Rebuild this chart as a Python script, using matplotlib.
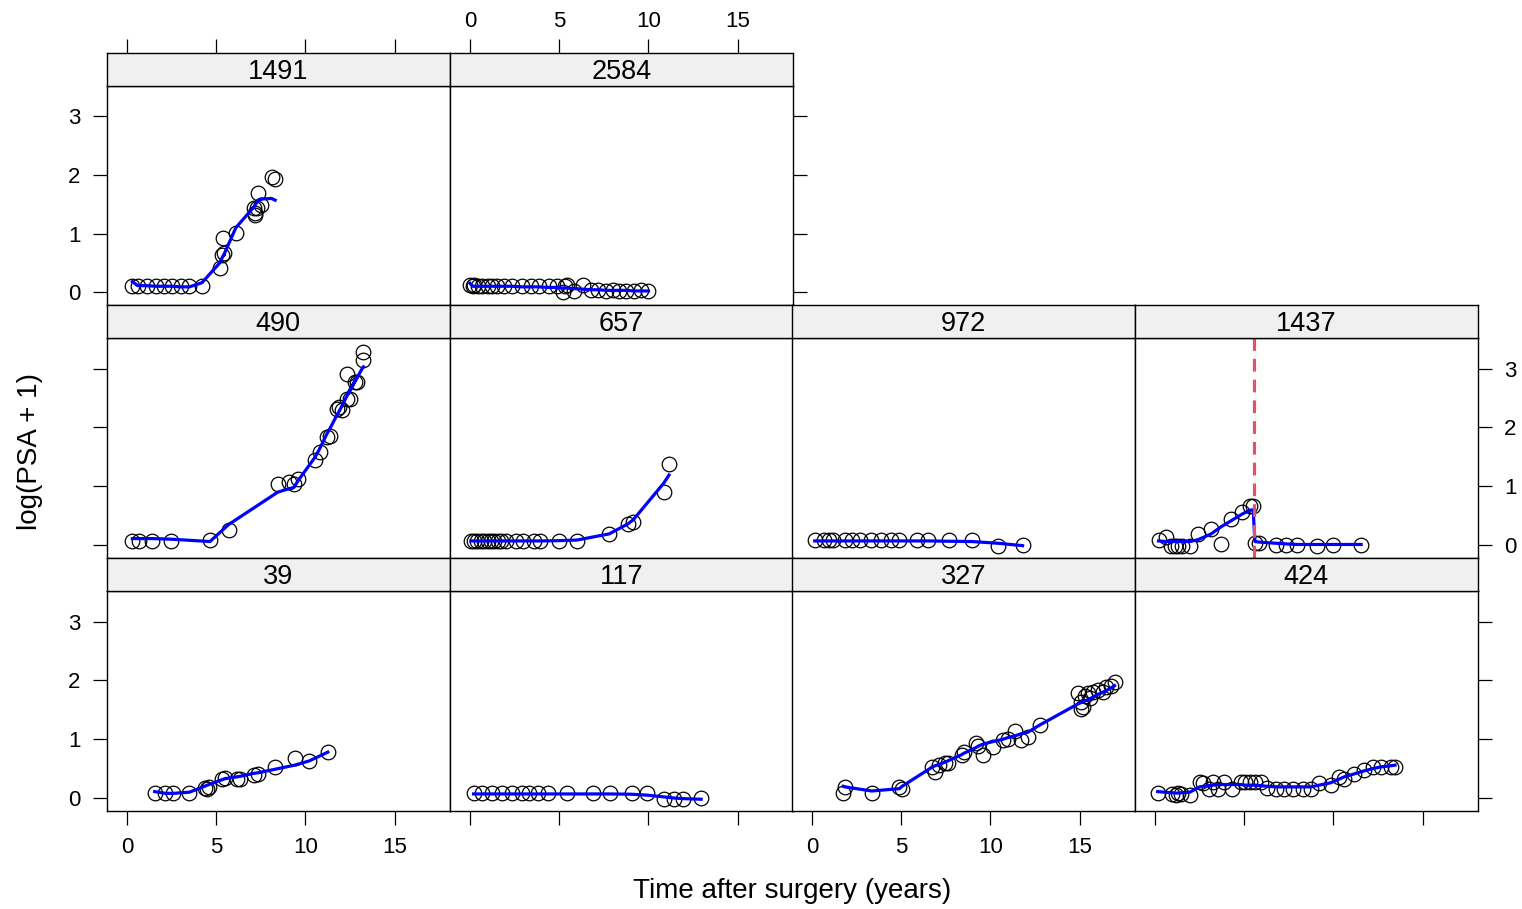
import matplotlib
matplotlib.use("Agg")
import matplotlib.pyplot as plt

plt.rcParams['font.family'] = ['Liberation Sans', 'DejaVu Sans']

# subject ids in panel order (row by row, top row has only two panels)
panel_ids = ["1491", "2584", "490", "657", "972", "1437", "39", "117", "327", "424"]

# ---- data: time (years), log(PSA+1), fitted value ----
t_1491 = [0.3, 0.6, 1.1, 1.6, 2.1, 2.5, 3.0, 3.5, 4.2, 5.2, 5.35, 5.45, 5.4, 6.1, 7.1, 7.15, 7.2, 7.3, 7.35, 7.5, 8.1, 8.3]
y_1491 = [0.1, 0.1, 0.1, 0.1, 0.1, 0.1, 0.1, 0.1, 0.1, 0.41, 0.64, 0.67, 0.93, 1.01, 1.44, 1.35, 1.32, 1.44, 1.70, 1.49, 1.97, 1.93]
f_1491 = [0.18, 0.11, 0.11, 0.1, 0.1, 0.1, 0.09, 0.09, 0.16, 0.5, 0.6, 0.64, 0.62, 1.1, 1.45, 1.47, 1.5, 1.54, 1.56, 1.59, 1.6, 1.57]

t_2584 = [0.0, 0.15, 0.25, 0.45, 0.7, 1.0, 1.25, 1.5, 1.9, 2.35, 2.9, 3.4, 3.85, 4.4, 4.9, 5.2, 5.35, 5.45, 5.85, 6.35, 6.8, 7.2, 7.6, 8.0, 8.35, 8.75, 9.2, 9.6, 10.0]
y_2584 = [0.12, 0.1, 0.12, 0.1, 0.1, 0.11, 0.1, 0.1, 0.1, 0.1, 0.1, 0.1, 0.1, 0.1, 0.1, 0.0, 0.1, 0.12, 0.02, 0.13, 0.03, 0.03, 0.02, 0.03, 0.02, 0.02, 0.02, 0.03, 0.02]
f_2584 = [0.15, 0.1, 0.1, 0.1, 0.1, 0.1, 0.1, 0.1, 0.1, 0.1, 0.09, 0.09, 0.09, 0.08, 0.08, 0.07, 0.07, 0.07, 0.06, 0.05, 0.04, 0.04, 0.03, 0.03, 0.03, 0.03, 0.02, 0.02, 0.02]

t_490 = [0.3, 0.7, 1.4, 2.45, 4.65, 5.7, 8.45, 9.1, 9.35, 9.6, 10.55, 10.8, 11.2, 11.35, 11.75, 11.9, 12.05, 12.3, 12.5, 12.8, 12.9, 12.35, 13.2, 13.25]
y_490 = [0.07, 0.07, 0.07, 0.07, 0.09, 0.26, 1.03, 1.08, 1.04, 1.13, 1.44, 1.58, 1.84, 1.86, 2.31, 2.35, 2.29, 2.49, 2.49, 2.77, 2.77, 2.91, 3.14, 3.28]
f_490 = [0.11, 0.11, 0.11, 0.1, 0.06, 0.35, 0.9, 0.96, 0.98, 1.1, 1.5, 1.64, 1.89, 1.97, 2.2, 2.28, 2.37, 2.52, 2.63, 2.8, 2.86, 2.56, 3.01, 3.03]

t_657 = [0.05, 0.2, 0.4, 0.6, 0.8, 1.0, 1.2, 1.35, 1.55, 1.75, 2.0, 2.55, 2.95, 3.6, 3.95, 5.0, 6.0, 7.8, 8.85, 9.15, 10.85, 11.15]
y_657 = [0.07, 0.07, 0.07, 0.07, 0.07, 0.07, 0.07, 0.07, 0.07, 0.07, 0.07, 0.07, 0.07, 0.07, 0.07, 0.07, 0.07, 0.18, 0.35, 0.40, 0.90, 1.37]
f_657 = [0.07, 0.07, 0.07, 0.07, 0.07, 0.07, 0.07, 0.07, 0.07, 0.07, 0.07, 0.07, 0.07, 0.07, 0.07, 0.075, 0.085, 0.19, 0.36, 0.43, 1.05, 1.19]

t_972 = [0.15, 0.65, 0.95, 1.2, 1.85, 2.25, 2.7, 3.3, 3.85, 4.4, 4.85, 5.9, 6.5, 7.65, 8.95, 10.45, 11.8]
y_972 = [0.085, 0.085, 0.085, 0.085, 0.085, 0.085, 0.085, 0.085, 0.085, 0.085, 0.085, 0.085, 0.085, 0.085, 0.085, -0.01, 0.0]
f_972 = [0.07, 0.07, 0.07, 0.07, 0.07, 0.07, 0.07, 0.07, 0.07, 0.07, 0.07, 0.07, 0.07, 0.065, 0.06, 0.03, -0.01]

t_1437 = [0.2, 0.6, 0.9, 1.1, 1.3, 1.5, 1.95, 2.4, 3.15, 3.7, 4.25, 4.9, 5.3, 5.5, 5.6, 5.85, 6.8, 7.35, 7.95, 9.05, 10.0, 11.55]
y_1437 = [0.085, 0.13, -0.01, -0.02, -0.01, -0.01, -0.01, 0.19, 0.27, 0.02, 0.45, 0.57, 0.66, 0.67, 0.03, 0.03, 0.0, 0.0, 0.0, -0.01, 0.0, 0.0]
f_1437 = [0.07, 0.06, 0.06, 0.06, 0.06, 0.06, 0.06, 0.09, 0.19, 0.31, 0.41, 0.53, 0.59, 0.6, 0.06, 0.05, 0.03, 0.02, 0.01, 0.01, 0.01, 0.01]
change_1437 = 5.53

t_39 = [1.55, 2.15, 2.6, 3.5, 4.35, 4.5, 4.6, 5.3, 5.5, 6.15, 6.35, 7.1, 7.35, 8.3, 9.4, 10.2, 11.25]
y_39 = [0.085, 0.085, 0.085, 0.085, 0.17, 0.16, 0.19, 0.33, 0.34, 0.33, 0.32, 0.40, 0.41, 0.53, 0.68, 0.63, 0.78]
f_39 = [0.11, 0.08, 0.08, 0.1, 0.2, 0.22, 0.23, 0.31, 0.33, 0.36, 0.37, 0.42, 0.43, 0.49, 0.56, 0.63, 0.78]

t_117 = [0.2, 0.7, 1.25, 1.8, 2.35, 2.9, 3.3, 3.8, 4.35, 5.45, 6.9, 7.85, 9.05, 9.9, 10.85, 11.45, 11.95, 12.95]
y_117 = [0.085, 0.085, 0.085, 0.085, 0.085, 0.085, 0.085, 0.085, 0.085, 0.085, 0.085, 0.085, 0.085, 0.085, -0.01, -0.01, -0.01, 0.0]
f_117 = [0.07, 0.07, 0.07, 0.07, 0.07, 0.07, 0.07, 0.07, 0.07, 0.07, 0.07, 0.07, 0.065, 0.05, 0.02, 0.0, -0.01, -0.02]

t_327 = [1.75, 1.85, 3.35, 4.9, 5.05, 6.7, 6.9, 7.1, 7.45, 7.6, 8.4, 8.5, 9.2, 9.3, 9.6, 10.15, 10.7, 11.0, 11.4, 11.7, 12.1, 12.75, 14.9, 15.05, 15.1, 15.2, 15.3, 15.45, 15.6, 15.75, 16.0, 16.3, 16.5, 16.75, 16.95]
y_327 = [0.09, 0.19, 0.09, 0.19, 0.16, 0.53, 0.45, 0.56, 0.60, 0.59, 0.73, 0.78, 0.93, 0.89, 0.74, 0.87, 0.98, 1.01, 1.14, 0.98, 1.04, 1.25, 1.78, 1.64, 1.51, 1.55, 1.74, 1.78, 1.70, 1.81, 1.84, 1.81, 1.89, 1.91, 1.97]
f_327 = [0.2, 0.19, 0.12, 0.16, 0.2, 0.52, 0.55, 0.57, 0.61, 0.63, 0.74, 0.76, 0.86, 0.88, 0.92, 0.96, 1.0, 1.03, 1.06, 1.09, 1.12, 1.24, 1.6, 1.62, 1.63, 1.64, 1.65, 1.67, 1.69, 1.72, 1.76, 1.8, 1.83, 1.87, 1.91]

t_424 = [0.15, 0.95, 1.15, 1.3, 1.45, 1.95, 2.5, 2.7, 3.0, 3.25, 3.55, 3.85, 4.3, 4.8, 5.05, 5.3, 5.6, 5.95, 6.25, 6.8, 7.25, 7.75, 8.3, 8.75, 9.2, 9.85, 10.3, 10.6, 11.15, 11.7, 12.2, 12.65, 13.25, 13.45]
y_424 = [0.09, 0.07, 0.06, 0.08, 0.07, 0.06, 0.27, 0.26, 0.16, 0.27, 0.16, 0.27, 0.16, 0.27, 0.28, 0.28, 0.27, 0.28, 0.17, 0.16, 0.16, 0.16, 0.16, 0.16, 0.26, 0.23, 0.36, 0.33, 0.41, 0.48, 0.53, 0.53, 0.53, 0.52]
f_424 = [0.11, 0.09, 0.085, 0.085, 0.09, 0.1, 0.19, 0.2, 0.21, 0.22, 0.23, 0.23, 0.23, 0.23, 0.22, 0.22, 0.22, 0.21, 0.2, 0.19, 0.19, 0.19, 0.19, 0.19, 0.22, 0.26, 0.32, 0.36, 0.41, 0.46, 0.5, 0.53, 0.55, 0.56]

times = [t_1491, t_2584, t_490, t_657, t_972, t_1437, t_39, t_117, t_327, t_424]
psa = [y_1491, y_2584, y_490, y_657, y_972, y_1437, y_39, y_117, y_327, y_424]
fits = [f_1491, f_2584, f_490, f_657, f_972, f_1437, f_39, f_117, f_327, f_424]

x_ticks = [0, 5, 10, 15]
y_ticks = [0, 1, 2, 3]

# ---- layout (pixels of a 1522x909 canvas) ----
W, H = 1522, 909
col_left = [107, 450, 792, 1135]
col_w = 342.5
rows = [(53, 86, 305), (305, 338, 558), (558, 591, 811)]  # strip top, plot top, plot bottom
cells = [(0, 0), (0, 1), (1, 0), (1, 1), (1, 2), (1, 3), (2, 0), (2, 1), (2, 2), (2, 3)]

xlim = (-1.12, 18.07)
ylim = (-0.22, 3.52)
strip_col = "#F0F0F0"

fig = plt.figure(figsize=(W / 100, H / 100), dpi=100)


def fig_rect(x0, y0, x1, y1):
    return [x0 / W, 1 - y1 / H, (x1 - x0) / W, (y1 - y0) / H]


tick_kw = dict(direction="out", length=10, width=0.9, labelsize=16, pad=9, colors="black")

for i, pid in enumerate(panel_ids):
    r, c = cells[i]
    s_top, p_top, p_bot = rows[r]
    x0 = col_left[c]
    ax = fig.add_axes(fig_rect(x0, p_top, x0 + col_w, p_bot))
    sx = fig.add_axes(fig_rect(x0, s_top, x0 + col_w, p_top))

    ax.plot(times[i], psa[i], "o", mfc="none", mec="black", ms=10.5, mew=0.9)
    ax.plot(times[i], fits[i], color="blue", lw=2.3)
    if pid == "1437":
        ax.axvline(change_1437, color="#DF536B", lw=2.3, ls=(0, (4, 2.5)))

    ax.set_xlim(xlim)
    ax.set_ylim(ylim)
    sx.set_xlim(xlim)
    sx.set_facecolor(strip_col)
    sx.text(0.5, 0.43, pid, transform=sx.transAxes, ha="center", va="center", fontsize=19.5)

    for a in (ax, sx):
        for sp in a.spines.values():
            sp.set_linewidth(1.0)

    ax.tick_params(axis="both", **tick_kw)
    sx.tick_params(axis="both", **tick_kw)
    sx.set_yticks([])
    ax.set_xticks(x_ticks)
    ax.set_yticks(y_ticks)
    sx.set_xticks(x_ticks)

    # x ticks: bottom row gets bottom ticks, alternating labels; top row gets top ticks
    ax.tick_params(axis="x", top=False, labeltop=False,
                   bottom=(r == 2), labelbottom=(r == 2 and c % 2 == 0))
    sx.tick_params(axis="x", bottom=False, labelbottom=False, pad=5,
                   top=(r == 0), labeltop=(r == 0 and c % 2 == 1))

    # y ticks: left column on left, last panel of each row on right
    last_in_row = (r == 0 and c == 1) or (r > 0 and c == 3)
    ax.tick_params(axis="y", left=(c == 0), labelleft=(c == 0 and r % 2 == 0),
                   right=last_in_row, labelright=(last_in_row and r == 1))

fig.text(792 / W, 1 - 891 / H, "Time after surgery (years)", ha="center", va="center", fontsize=20)
fig.text(30 / W, 1 - 452 / H, "log(PSA + 1)", ha="center", va="center", rotation=90, fontsize=20)

fig.savefig("out.png", dpi=100)
